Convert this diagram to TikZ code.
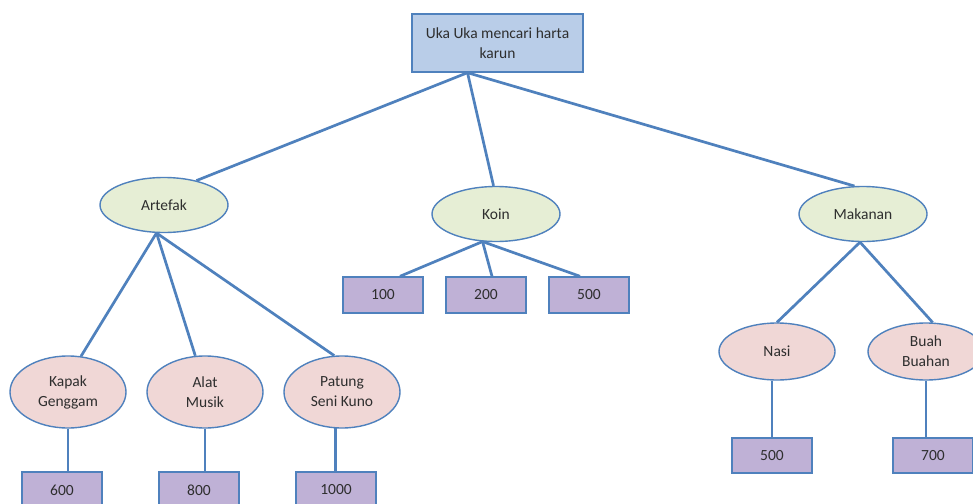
\documentclass[tikz,border=0pt]{standalone}
\usepackage{fontspec}
\setmainfont{Carlito}
\usetikzlibrary{shapes.geometric,calc}
\definecolor{edge}{HTML}{4F81BD}
\definecolor{rootfill}{HTML}{B9CDE8}
\definecolor{greenfill}{HTML}{E6EED5}
\definecolor{pinkfill}{HTML}{F0D7D6}
\definecolor{purplefill}{HTML}{BFB1D6}
\definecolor{txt}{HTML}{2E2E2E}
\tikzset{
  base/.style={draw=edge, line width=1.4pt, text=txt, font=\fontsize{15.5}{20}\selectfont, align=center, inner sep=0pt},
  rootbox/.style={base, rectangle, fill=rootfill, minimum width=171pt, minimum height=58pt},
  greenell/.style={base, ellipse, fill=greenfill, minimum width=128pt, minimum height=55pt},
  pinkell/.style={base, ellipse, fill=pinkfill, minimum width=116pt, minimum height=72pt},
  pinkellsmall/.style={base, ellipse, fill=pinkfill, minimum width=116pt, minimum height=57pt},
  valbox/.style={base, rectangle, fill=purplefill, minimum width=80pt, minimum height=36pt},
  conn/.style={draw=edge, line width=2.7pt}
}
\begin{document}
\begin{tikzpicture}[x=1pt,y=-1pt]
\useasboundingbox (0,0) rectangle (973,503);
\fill[white] (0,0) rectangle (973,503);
% nodes
\node[rootbox] (root) at (497.5,43) {Uka Uka mencari harta\\karun};
\node[greenell] (art) at (164,205) {Artefak};
\node[greenell] (koin) at (496,214) {Koin};
\node[greenell] (mak) at (863,214) {Makanan};
\node[valbox] (b100) at (383,295) {100};
\node[valbox] (b200) at (486,295) {200};
\node[valbox] (b500) at (589,295) {500};
\node[pinkell] (kapak) at (68,392) {Kapak\\Genggam};
\node[pinkell] (alat) at (205,392) {Alat\\Musik};
\node[pinkell] (patung) at (342,392) {Patung\\Seni Kuno};
\node[valbox] (b600) at (62,490) {600};
\node[valbox] (b800) at (199,490) {800};
\node[valbox] (b1000) at (336,490) {1000};
\node[pinkellsmall] (nasi) at (777,351.5) {Nasi};
\node[pinkellsmall] (buah) at (926,351.5) {Buah\\Buahan};
\node[valbox, minimum height=35pt] (n500) at (772,455.5) {500};
\node[valbox, minimum height=35pt] (n700) at (933,455.5) {700};
% connectors
\coordinate (rh) at ($(root.south)+(-30,0)$);
\draw[conn] (rh) -- (art.37);
\draw[conn] (rh) -- (koin.95);
\draw[conn] (rh) -- (mak.107);
\draw[conn] (art.-105) -- (kapak.70);
\draw[conn] (art.-105) -- (alat.105);
\draw[conn] (art.-105) -- (patung.102);
\draw[conn] (koin.-116) -- ($(b100.north)+(17,0)$);
\draw[conn] (koin.-116) -- ($(b200.north)+(6,0)$);
\draw[conn] (koin.-116) -- ($(b500.north)+(-9,0)$);
\draw[conn] (mak.-96) -- (nasi.north);
\draw[conn] (mak.-96) -- (buah.77);
\draw[conn] (kapak.south) -- (kapak.south |- b600.north);
\draw[conn] (alat.south) -- (alat.south |- b800.north);
\draw[conn] (patung.-100) -- (patung.-100 |- b1000.north);
\draw[conn] (nasi.-100) -- (nasi.-100 |- n500.north);
\draw[conn] (buah.south) -- (buah.south |- n700.north);
\end{tikzpicture}
\end{document}
